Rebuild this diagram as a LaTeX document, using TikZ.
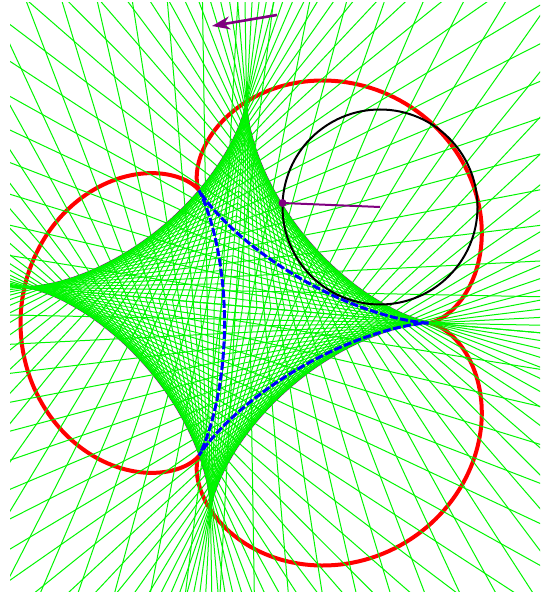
\documentclass[tikz,border=0pt]{standalone}
\usetikzlibrary{arrows.meta}
\definecolor{pur}{RGB}{128,0,128}
\definecolor{gline}{RGB}{0,245,0}
\tikzset{
  tangentline/.style={draw=gline, line width=0.5pt},
  tangentseg/.style={draw=gline, line width=0.45pt},
  astroidcurve/.style={draw=pur, line width=1pt},
  epicurve/.style={draw=red, line width=2pt},
  deltoidcurve/.style={draw=blue, line width=1.5pt, dash pattern=on 4pt off 1.2pt},
  rollcircle/.style={draw=black, line width=1pt},
  radiusline/.style={draw=pur, line width=1pt},
  motionarrow/.style={draw=pur, line width=1.3pt, -{Stealth[length=9pt,width=6.5pt]}}
}
\def\aa{204.5}
\def\rr{51}
\begin{document}
\begin{tikzpicture}[x=0.5pt,y=0.5pt]
\useasboundingbox (0,0) rectangle (540,-592);
% red epicycloid
\begin{scope}[shift={(275.5,-323)}]
  \draw[epicurve] plot[domain=0:360,samples=400]
    ({4*\rr*cos(\x)-\rr*cos(4*\x)},{4*\rr*sin(\x)-\rr*sin(4*\x)}) -- cycle;
\end{scope}
% astroid outline
\begin{scope}[shift={(228.5,-305)},rotate=-5.1]
  \draw[astroidcurve] plot[domain=0:360,samples=400]
    ({\aa*cos(\x)*cos(\x)*cos(\x)},{\aa*sin(\x)*sin(\x)*sin(\x)}) -- cycle;
\end{scope}
% tangent lines and ladder segments
\begin{scope}
  \clip (10,-3) rectangle (540,-592);
  \begin{scope}[shift={(228.5,-305)},rotate=-5.1]
    \foreach \t in {0,4,...,356}{
      \draw[tangentline] ({5*\aa*cos(\t)},{-4*\aa*sin(\t)}) -- ({-4*\aa*cos(\t)},{5*\aa*sin(\t)});
    }
    \foreach \t in {2,6,...,358}{
      \draw[tangentseg] ({\aa*cos(\t)},0) -- (0,{\aa*sin(\t)});
    }
  \end{scope}
\end{scope}
% blue deltoid
\begin{scope}[shift={(275.5,-323)}]
  \draw[deltoidcurve] plot[domain=0:360,samples=400]
    ({2*\rr*cos(\x)+\rr*cos(2*\x)},{2*\rr*sin(\x)-\rr*sin(2*\x)}) -- cycle;
\end{scope}
% rolling circle
\coordinate (cc) at (380,-207);
\coordinate (pp) at (282.5,-203);
\draw[rollcircle] (cc) circle[radius=97.5];
\draw[radiusline] (pp) -- (cc);
\fill[pur] (pp) circle[radius=4];
% arrow
\coordinate (atail) at (277,-15);
\coordinate (ahead) at (212,-26);
\draw[motionarrow] (atail) -- (ahead);
\end{tikzpicture}
\end{document}
